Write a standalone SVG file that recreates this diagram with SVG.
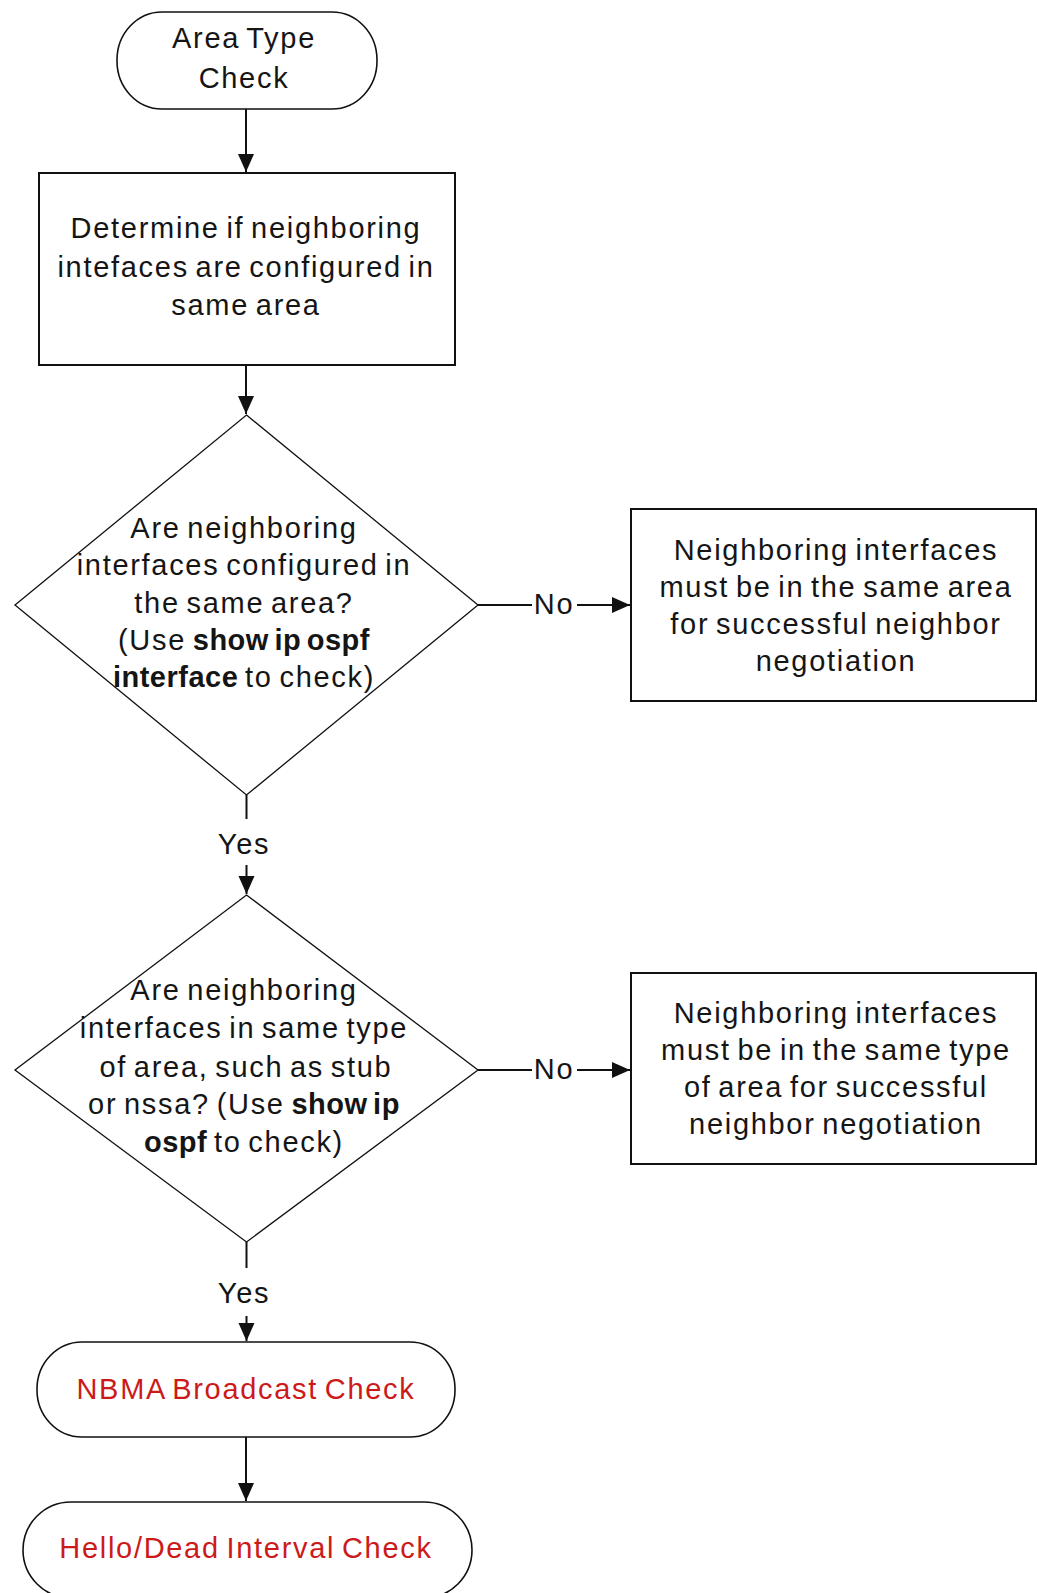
<svg xmlns="http://www.w3.org/2000/svg" width="1037" height="1593" viewBox="0 0 1037 1593">
<style>
.t{font-family:"Liberation Sans",Arial,sans-serif;font-size:29px;fill:#151515;text-anchor:middle;letter-spacing:1.7px;word-spacing:-3px}
.r{fill:#cc1a1a}
.b{font-weight:bold;letter-spacing:0.5px}
.box{fill:#fff;stroke:#111;stroke-width:2}
.dia{fill:#fff;stroke:#111;stroke-width:1.3}
.term{fill:#fff;stroke:#111;stroke-width:1.6}
.c{fill:none;stroke:#111;stroke-width:2}
</style>
<defs>
<marker id="ah" markerUnits="userSpaceOnUse" markerWidth="20" markerHeight="20" viewBox="0 0 20 20" refX="19" refY="10" orient="auto">
<path d="M1,2 L19,10 L1,18 Z" fill="#111"/>
</marker>
</defs>
<rect width="1037" height="1593" fill="#fff"/>
<g id="connectors">
<line class="c" x1="246" y1="109" x2="246" y2="172" marker-end="url(#ah)"/>
<line class="c" x1="246" y1="365" x2="246" y2="414" marker-end="url(#ah)"/>
<line class="c" x1="246.5" y1="795" x2="246.5" y2="819"/>
<text class="t" x="244" y="854">Yes</text>
<line class="c" x1="246.5" y1="865" x2="246.5" y2="894" marker-end="url(#ah)"/>
<line class="c" x1="246.5" y1="1242" x2="246.5" y2="1268"/>
<text class="t" x="244" y="1303">Yes</text>
<line class="c" x1="246.5" y1="1316" x2="246.5" y2="1341" marker-end="url(#ah)"/>
<line class="c" x1="246" y1="1437" x2="246" y2="1501" marker-end="url(#ah)"/>
<line class="c" x1="478" y1="605" x2="532" y2="605"/>
<text class="t" x="554" y="614">No</text>
<line class="c" x1="577" y1="605" x2="630" y2="605" marker-end="url(#ah)"/>
<line class="c" x1="478" y1="1070" x2="532" y2="1070"/>
<text class="t" x="554" y="1079">No</text>
<line class="c" x1="577" y1="1070" x2="630" y2="1070" marker-end="url(#ah)"/>
</g>
<g id="start">
<rect class="term" x="117" y="12" width="260" height="97" rx="45" ry="48"/>
<text class="t" x="244" y="48">Area Type</text>
<text class="t" x="244" y="88">Check</text>
</g>
<g id="determine">
<rect class="box" x="39" y="173" width="416" height="192"/>
<text class="t" x="246" y="238">Determine if neighboring</text>
<text class="t" x="246" y="277">intefaces are configured in</text>
<text class="t" x="246" y="315">same area</text>
</g>
<g id="decision1">
<polygon class="dia" points="246.5,415 478,605 246.5,795 15,605"/>
<text class="t" x="244" y="538">Are neighboring</text>
<text class="t" x="244" y="575">interfaces configured in</text>
<text class="t" x="244" y="613">the same area?</text>
<text class="t" x="244" y="650">(Use <tspan class="b">show ip ospf</tspan></text>
<text class="t" x="244" y="687"><tspan class="b">interface</tspan> to check)</text>
</g>
<g id="result1">
<rect class="box" x="631" y="509" width="405" height="192"/>
<text class="t" x="836" y="560">Neighboring interfaces</text>
<text class="t" x="836" y="597">must be in the same area</text>
<text class="t" x="836" y="634">for successful neighbor</text>
<text class="t" x="836" y="671">negotiation</text>
</g>
<g id="decision2">
<polygon class="dia" points="246.5,895 478,1070 246.5,1242 15,1070"/>
<text class="t" x="244" y="1000">Are neighboring</text>
<text class="t" x="244" y="1038">interfaces in same type</text>
<text class="t" x="246" y="1077">of area, such as stub</text>
<text class="t" x="244" y="1114">or nssa? (Use <tspan class="b">show ip</tspan></text>
<text class="t" x="244" y="1152"><tspan class="b">ospf</tspan> to check)</text>
</g>
<g id="result2">
<rect class="box" x="631" y="973" width="405" height="191"/>
<text class="t" x="836" y="1023">Neighboring interfaces</text>
<text class="t" x="836" y="1060">must be in the same type</text>
<text class="t" x="836" y="1097">of area for successful</text>
<text class="t" x="836" y="1134">neighbor negotiation</text>
</g>
<g id="nbma">
<rect class="term" x="37" y="1342" width="418" height="95" rx="45" ry="47"/>
<text class="t r" x="246" y="1399">NBMA Broadcast Check</text>
</g>
<g id="hello">
<rect class="term" x="23" y="1502" width="449" height="96" rx="48" ry="48"/>
<text class="t r" x="246" y="1558">Hello/Dead Interval Check</text>
</g>
</svg>
